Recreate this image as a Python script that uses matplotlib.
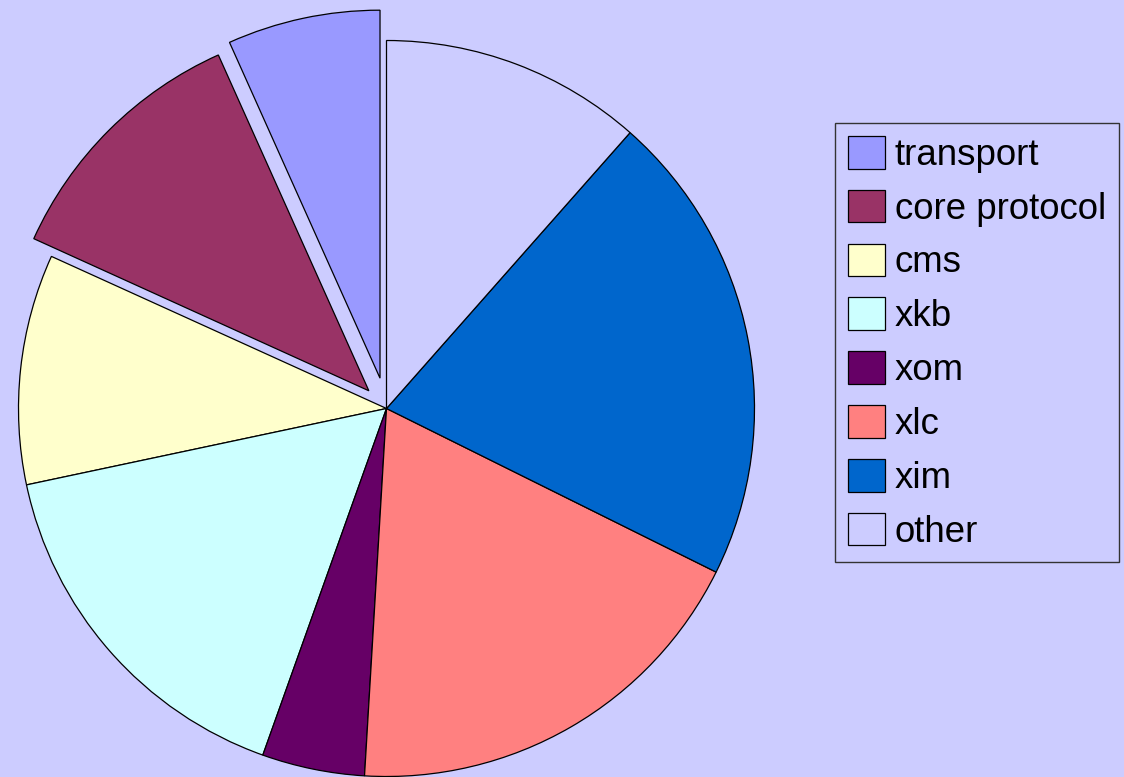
import matplotlib
matplotlib.use("Agg")
import matplotlib.pyplot as plt

# slice shares in percent
labels = ["transport", "core protocol", "cms", "xkb", "xom", "xlc", "xim", "other"]
shares = [6.7, 11.5, 10.1, 16.2, 4.5, 18.6, 20.8, 11.5]
colors = ["#9999FF", "#993366", "#FFFFCC", "#CCFFFF", "#660066", "#FF8080", "#0066CC", "#CCCCFF"]
# pie is drawn in pixel units, so the explode offsets are pixels too
explode = [31, 25, 0, 0, 0, 0, 0, 0]

plt.rcParams["font.family"] = ["Liberation Sans", "DejaVu Sans"]

bg = "#CCCCFF"
fig = plt.figure(figsize=(11.24, 7.77), dpi=100, facecolor=bg)
ax = fig.add_axes([0, 0, 1, 1])
ax.set_facecolor(bg)

wedges, _ = ax.pie(shares, colors=colors, explode=explode, startangle=90,
                   counterclock=True, center=(386.5, 368.5), radius=368,
                   wedgeprops=dict(edgecolor="black", linewidth=0.9))
ax.set_xlim(0, 1124)
ax.set_ylim(0, 777)
ax.set_aspect("equal")
ax.axis("off")

leg = fig.legend(wedges, labels, loc="upper left",
                 bbox_to_anchor=(835 / 1124, 1 - 123 / 777), borderaxespad=0,
                 fontsize=26.4, frameon=True, fancybox=False, shadow=False,
                 handlelength=1.0, handleheight=1.0, handletextpad=0.28,
                 labelspacing=0.46, borderpad=0.35)
frame = leg.get_frame()
frame.set_facecolor(bg)
frame.set_edgecolor("#333333")
frame.set_linewidth(1.0)
frame.set_alpha(1)

fig.savefig("out.png", dpi=100, facecolor=bg)
